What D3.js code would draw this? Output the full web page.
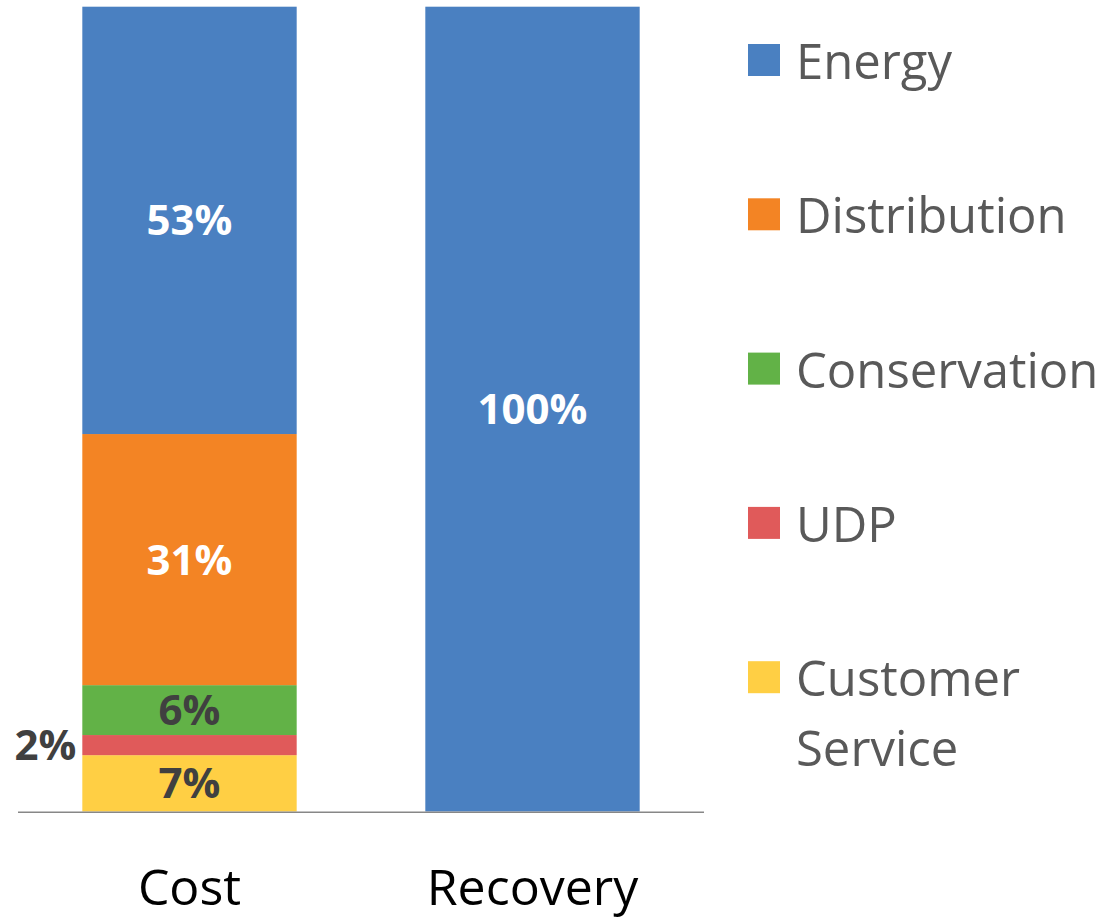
<!DOCTYPE html>
<html>
<head>
<meta charset="utf-8">
<script src="https://cdn.jsdelivr.net/npm/d3@7"></script>
<style>
  body { margin: 0; background: #fff; }
  svg text { font-family: "Open Sans", "Noto Sans", sans-serif; }
</style>
</head>
<body>
<div id="main"></div>
<script>
// categories + series (percent of total)
const categories = ["Cost", "Recovery"];
const seriesNames = ["Energy", "Distribution", "Conservation", "UDP", "Customer Service"];
const energy = [53.1, 100];
const distribution = [31.2, 0];
const conservation = [6.2, 0];
const udp = [2.5, 0];
const customerService = [7.0, 0];
const labelText = {
  "Energy": ["53%", "100%"],
  "Distribution": ["31%", ""],
  "Conservation": ["6%", ""],
  "UDP": ["2%", ""],
  "Customer Service": ["7%", ""]
};
const colors = ["#4a80c1", "#f38424", "#62b247", "#e05a5a", "#ffcf44"];

const width = 1107, height = 919;

const rows = categories.map((c, i) => ({
  cat: c,
  "Energy": energy[i],
  "Distribution": distribution[i],
  "Conservation": conservation[i],
  "UDP": udp[i],
  "Customer Service": customerService[i]
}));

// stack from the bottom: customer service first
const stackOrder = seriesNames.slice().reverse();
const stacked = d3.stack().keys(stackOrder)(rows);

const x = d3.scaleBand().domain(categories).range([18, 704]).paddingInner(0.375).paddingOuter(0.1875);
const y = d3.scaleLinear().domain([0, 100]).range([811.5, 6.7]);
const color = d3.scaleOrdinal().domain(seriesNames).range(colors);

const svg = d3.select("#main").append("svg").attr("width", width).attr("height", height);

const layers = svg.selectAll("g.layer").data(stacked).enter().append("g")
  .attr("class", "layer")
  .attr("fill", d => color(d.key));

layers.selectAll("rect").data(d => d.filter(p => p[1] - p[0] > 0)).enter().append("rect")
  .attr("x", d => x(d.data.cat))
  .attr("y", d => y(d[1]))
  .attr("width", x.bandwidth())
  .attr("height", d => y(d[0]) - y(d[1]));

// baseline
svg.append("line")
  .attr("x1", 18).attr("x2", 704)
  .attr("y1", y(0) + 0.75).attr("y2", y(0) + 0.75)
  .attr("stroke", "#878787").attr("stroke-width", 1.5);

// data labels
stacked.forEach(layer => {
  layer.forEach((p, i) => {
    const t = labelText[layer.key][i];
    if (!t) return;
    const mid = (y(p[0]) + y(p[1])) / 2;
    const dark = layer.key != "Energy" && layer.key != "Distribution";
    const outside = layer.key == "UDP";
    svg.append("text")
      .attr("x", outside ? x(p.data.cat) - 6 : x(p.data.cat) + x.bandwidth() / 2)
      .attr("y", mid)
      .attr("dy", "0.36em")
      .attr("text-anchor", outside ? "end" : "middle")
      .attr("font-size", 42)
      .attr("font-weight", "bold")
      .attr("fill", dark ? "#404040" : "#fff")
      .text(t);
  });
});

// category axis labels
svg.selectAll("text.cat").data(categories).enter().append("text")
  .attr("class", "cat")
  .attr("x", d => x(d) + x.bandwidth() / 2)
  .attr("y", 905)
  .attr("text-anchor", "middle")
  .attr("font-size", 50)
  .attr("fill", "#000")
  .text(d => d);

// legend
const legend = svg.selectAll("g.legend").data(seriesNames).enter().append("g")
  .attr("class", "legend")
  .attr("transform", (d, i) => `translate(748, ${60 + i * 154.3})`);

legend.append("rect")
  .attr("x", 0).attr("y", -16)
  .attr("width", 32).attr("height", 32)
  .attr("fill", d => color(d));

legend.append("text")
  .attr("x", 48)
  .attr("y", 19)
  .attr("font-size", 49)
  .attr("fill", "#595959")
  .each(function(d) {
    const words = d.split(" ");
    d3.select(this).selectAll("tspan").data(words).enter().append("tspan")
      .attr("x", 48)
      .attr("dy", (w, j) => j == 0 ? 0 : 70)
      .text(w => w);
  });
</script>
</body>
</html>
